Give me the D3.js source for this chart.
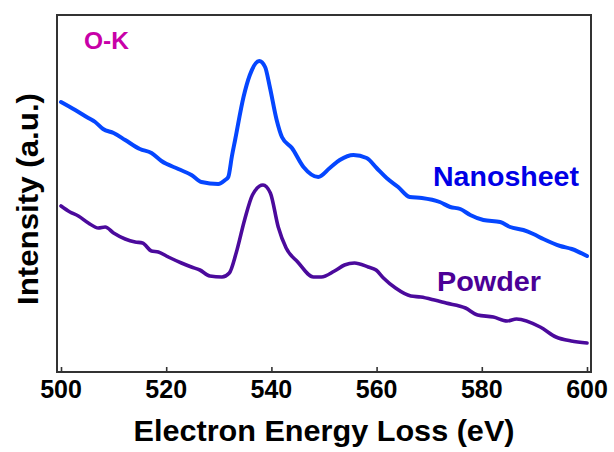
<!DOCTYPE html>
<html>
<head>
<meta charset="utf-8">
<script src="https://cdn.jsdelivr.net/npm/d3@7"></script>
<style>
  body { margin: 0; background: #fff; }
  svg { display: block; font-family: "Liberation Sans", Arial, sans-serif; font-weight: bold; }
</style>
</head>
<body>
<div id="chart"></div>
<script>
// EELS O-K edge, intensity in arbitrary units
const nanosheetEnergy = [500, 502.7, 505.2, 506.5, 508, 510, 512.2, 515, 517.2, 519.1, 522.3, 524.8, 526.7, 529.9,
  531.2, 531.8, 532.5, 533.1, 534.7, 535.9, 537.7, 538.8, 539.7, 541, 542, 543.9, 546.1, 548.9, 551.1, 553, 555.6,
  558.1, 560, 561.9, 564.1, 566.3, 568.6, 572, 574, 575.9, 577.8, 580.3, 583.5, 585.4, 587.9, 589.8, 591.7, 594.9,
  597.1, 600];
const nanosheetIntensity = [2.70, 2.62, 2.54, 2.50, 2.43, 2.39, 2.32, 2.23, 2.19, 2.11, 2.03, 1.97, 1.90, 1.88,
  1.92, 1.95, 2.16, 2.32, 2.75, 2.97, 3.11, 3.05, 2.85, 2.52, 2.35, 2.24, 2.05, 1.95, 2.04, 2.12, 2.17,
  2.14, 2.04, 1.94, 1.85, 1.75, 1.74, 1.70, 1.65, 1.63, 1.57, 1.52, 1.50, 1.45, 1.42, 1.38, 1.33, 1.26,
  1.23, 1.16];

const powderEnergy = [500, 501.7, 503.3, 505.2, 507.1, 508.4, 510, 512.2, 514.1, 515.5, 517.2, 518.5, 520.4, 522.9,
  524.8, 526.4, 528.3, 530.6, 532, 533.3, 534.9, 536.4, 538.4, 539.8, 541.3, 542.8, 545, 548, 549.5, 552, 553.9,
  555.8, 558.4, 559.9, 561.3, 563.6, 566.5, 568.4, 571, 573.2, 576.9, 579.2, 582.2, 584.8, 586.6, 591.1, 594.1,
  597, 600];
const powderIntensity = [1.66, 1.60, 1.56, 1.49, 1.44, 1.45, 1.39, 1.33, 1.30, 1.29, 1.21, 1.20, 1.15, 1.09,
  1.05, 1.02, 0.96, 0.95, 0.99, 1.19, 1.52, 1.77, 1.87, 1.79, 1.45, 1.24, 1.10, 0.95, 0.95, 1.01, 1.07,
  1.09, 1.05, 1.02, 0.94, 0.84, 0.76, 0.75, 0.72, 0.69, 0.64, 0.57, 0.55, 0.51, 0.53, 0.45, 0.35,
  0.31, 0.29];

const xTicks = [500, 520, 540, 560, 580, 600];
const xLabel = 'Electron Energy Loss (eV)';
const yLabel = 'Intensity (a.u.)';
const edgeLabel = 'O-K';

const dims = { width: 614, height: 452 };
const frame = { left: 57, right: 591, top: 15, bottom: 372 };

const svg = d3.select('#chart').append('svg')
  .attr('width', dims.width)
  .attr('height', dims.height)
  .attr('viewBox', [0, 0, dims.width, dims.height]);

const xScale = d3.scaleLinear().domain([500, 600]).range([61, 587]);
const yScale = d3.scaleLinear().domain([0, 3.57]).range([frame.bottom, frame.top]);

const line = d3.line()
  .x(d => xScale(d[0]))
  .y(d => yScale(d[1]))
  .curve(d3.curveMonotoneX);

const series = [
  { name: 'Nanosheet', energy: nanosheetEnergy, values: nanosheetIntensity, color: '#0546ff', width: 4,
    labelColor: '#0000e6', lx: 433, ly: 186, len: 146 },
  { name: 'Powder', energy: powderEnergy, values: powderIntensity, color: '#4b0a9c', width: 3.6,
    labelColor: '#4b0096', lx: 437, ly: 291, len: 104 }
];

series.forEach(s => {
  svg.append('path')
    .datum(s.energy.map((e, i) => [e, s.values[i]]))
    .attr('fill', 'none')
    .attr('stroke', s.color)
    .attr('stroke-width', s.width)
    .attr('stroke-linejoin', 'round')
    .attr('stroke-linecap', 'round')
    .attr('d', line);

  svg.append('text')
    .attr('x', s.lx)
    .attr('y', s.ly)
    .attr('font-size', 28)
    .attr('fill', s.labelColor)
    .attr('textLength', s.len)
    .attr('lengthAdjust', 'spacingAndGlyphs')
    .text(s.name);
});

// frame
svg.append('rect')
  .attr('x', frame.left)
  .attr('y', frame.top)
  .attr('width', frame.right - frame.left)
  .attr('height', frame.bottom - frame.top)
  .attr('fill', 'none')
  .attr('stroke', '#333')
  .attr('stroke-width', 2);

// bottom ticks, pointing inward
const xAxis = svg.append('g')
  .attr('transform', `translate(0,${frame.bottom})`)
  .call(d3.axisTop(xScale).tickValues(xTicks).tickSize(5).tickFormat(''));
xAxis.select('.domain').remove();
xAxis.selectAll('.tick line').attr('stroke', '#333').attr('stroke-width', 1.6);

svg.append('g').selectAll('text')
  .data(xTicks)
  .join('text')
  .attr('x', d => xScale(d))
  .attr('y', 398)
  .attr('text-anchor', 'middle')
  .attr('font-size', 25)
  .attr('fill', '#000')
  .text(d => d);

svg.append('text')
  .attr('x', 324)
  .attr('y', 441)
  .attr('text-anchor', 'middle')
  .attr('font-size', 29)
  .attr('textLength', 381)
  .attr('lengthAdjust', 'spacingAndGlyphs')
  .text(xLabel);

svg.append('text')
  .attr('transform', 'translate(38,199) rotate(-90)')
  .attr('text-anchor', 'middle')
  .attr('font-size', 29)
  .attr('textLength', 212)
  .attr('lengthAdjust', 'spacingAndGlyphs')
  .text(yLabel);

svg.append('text')
  .attr('x', 84)
  .attr('y', 49)
  .attr('font-size', 23)
  .attr('fill', '#c800a8')
  .attr('textLength', 45)
  .attr('lengthAdjust', 'spacingAndGlyphs')
  .text(edgeLabel);
</script>
</body>
</html>
